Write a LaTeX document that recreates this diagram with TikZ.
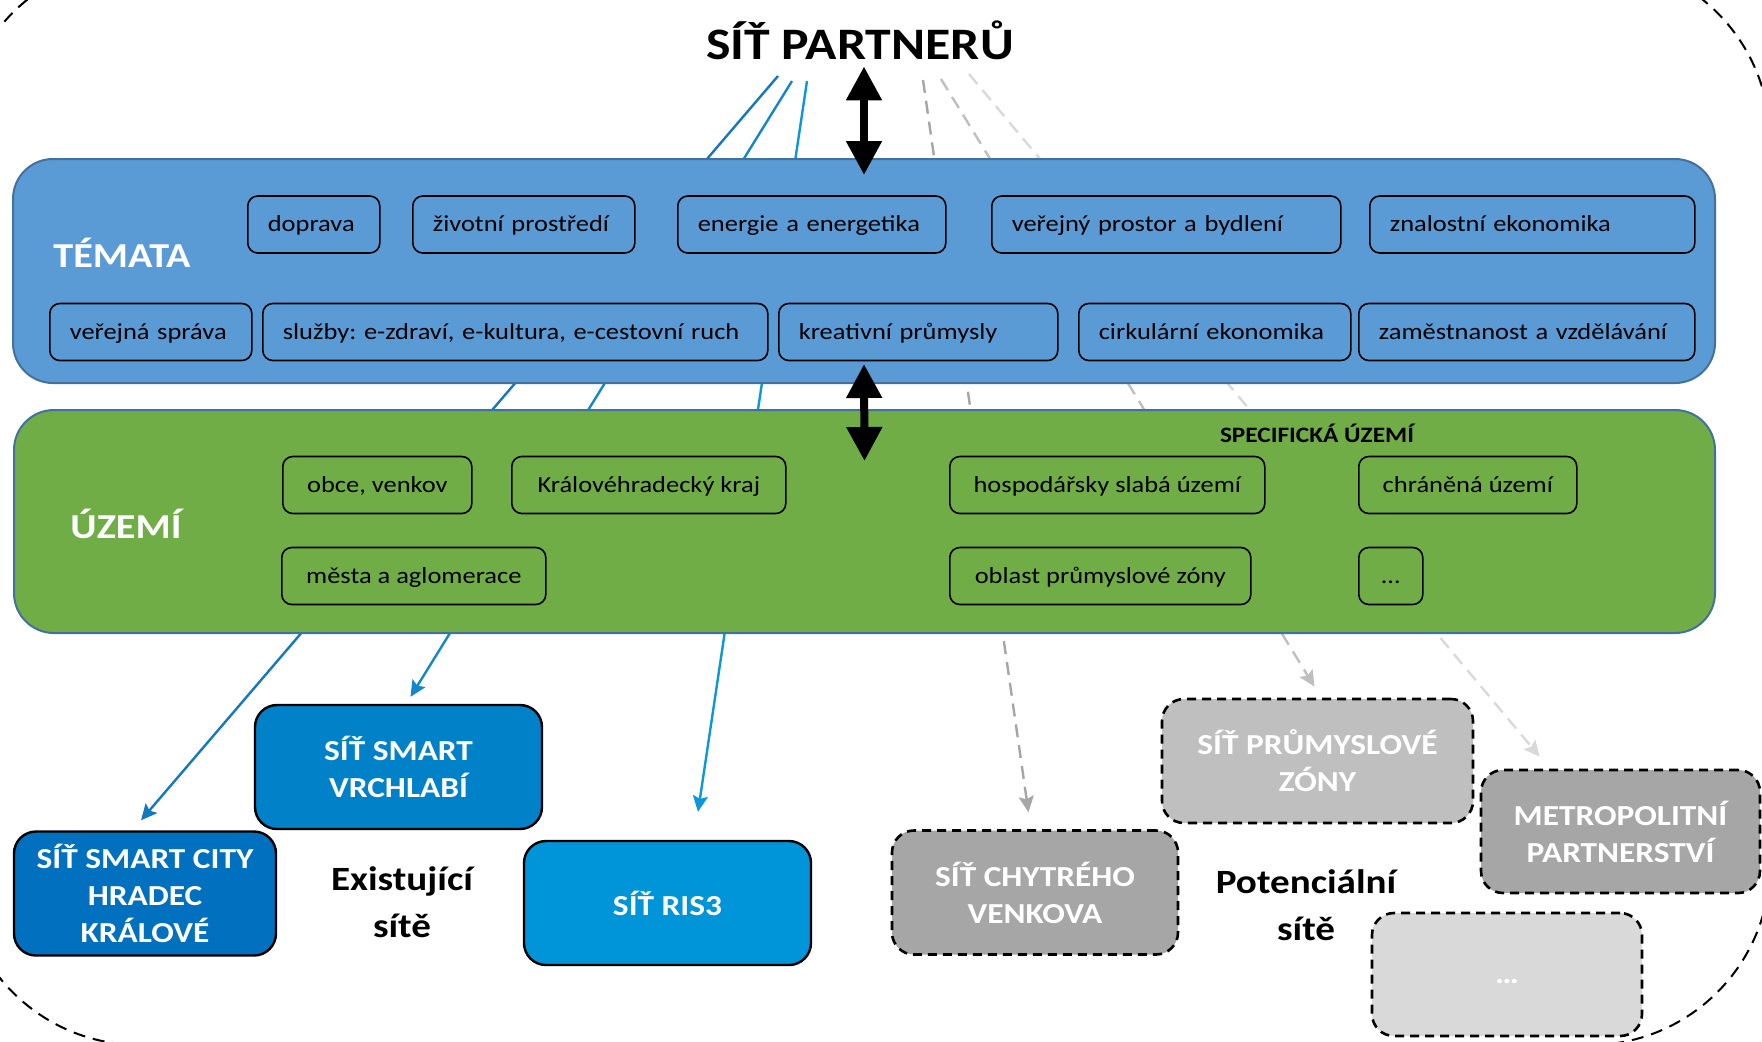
\documentclass[tikz,border=0pt]{standalone}
\usepackage{fontspec}
\setmainfont{Carlito}[FakeStretch=1.15]
\usetikzlibrary{arrows.meta}
\frenchspacing

\definecolor{temablue}{HTML}{5B9BD5}
\definecolor{panelline}{HTML}{41719C}
\definecolor{uzemigreen}{HTML}{70AD47}
\definecolor{hkblue}{HTML}{0070BF}
\definecolor{vrchblue}{HTML}{0081C8}
\definecolor{risblue}{HTML}{0094D8}
\definecolor{lineone}{HTML}{1478C0}
\definecolor{linetwo}{HTML}{1486CC}
\definecolor{linethree}{HTML}{0B97DA}
\definecolor{grayone}{HTML}{A6A6A6}
\definecolor{graytwo}{HTML}{BFBFBF}
\definecolor{graythree}{HTML}{D9D9D9}

\tikzset{
  panel/.style={draw=panelline, line width=1pt, rounded corners=20pt, inner sep=0pt},
  panellabel/.style={anchor=base, text=white, font=\bfseries\fontsize{17.5}{21}\selectfont},
  tema/.style={draw, line width=0.8pt, rounded corners=5pt, anchor=west, align=left,
    inner xsep=10pt, minimum height=28.5pt, text height=0.9em, text depth=0.2em,
    font=\fontsize{11.5}{13}\selectfont},
  uzemibox/.style={tema, align=center},
  sit/.style={draw, line width=1.2pt, rounded corners=11pt, text=white, align=center,
    minimum height=62pt, font=\bfseries\fontsize{14.5}{18.5}\selectfont},
  potsit/.style={sit, line width=1.3pt, dash pattern=on 4.5pt off 3pt},
  group/.style={align=center, font=\bfseries\fontsize{17}{23.5}\selectfont},
  existarrow/.style={-{Stealth[length=8pt,width=7.5pt,inset=1.5pt]}, line width=1.2pt},
  potarrow/.style={existarrow, dash pattern=on 6.5pt off 4pt},
  bigarrow/.style={{Triangle[length=17pt,width=17pt]}-{Triangle[length=17pt,width=17pt]}, line width=4pt},
}

\begin{document}
\begin{tikzpicture}[x=0.5pt, y=-0.5pt]
\useasboundingbox (0,0) rectangle (1762,1041);

% dashed frame round the whole network
\begin{scope}
  \clip (0,0) rectangle (1762,1041);
  \draw[line width=1pt, dash pattern=on 6pt off 4pt, rounded corners=90pt] (-40,-40) rectangle (1770,1045);
\end{scope}

\node[anchor=base, font=\bfseries\fontsize{22.5}{27}\selectfont] (title) at (860,59) {SÍŤ PARTNERŮ};

% existing networks
\node[sit, fill=hkblue, minimum width=131pt] (hk) at (145,893.5) {SÍŤ SMART CITY\\HRADEC\\KRÁLOVÉ};
\node[sit, fill=vrchblue, minimum width=143.5pt] (vrch) at (398.5,767) {SÍŤ SMART\\VRCHLABÍ};
\node[sit, fill=risblue, minimum width=143.5pt] (ris) at (667.5,903) {SÍŤ RIS3};
\node[group] (existujici) at (402,902) {Existující\\sítě};

% potential networks
\node[potsit, fill=grayone, minimum width=143pt] (chytry) at (1035,892.5) {SÍŤ CHYTRÉHO\\VENKOVA};
\node[potsit, fill=graytwo, minimum width=155.5pt] (prum) at (1317.5,761) {SÍŤ PRŮMYSLOVÉ\\ZÓNY};
\node[potsit, fill=grayone, minimum width=139.5pt, minimum height=61.5pt] (metro) at (1620.5,831.5) {METROPOLITNÍ\\PARTNERSTVÍ};
\node[potsit, fill=graythree, minimum width=135pt, minimum height=61.5pt, text height=8.5pt, text depth=0pt] (dalsi) at (1507,974.5) {…};
\node[group] (potencialni) at (1306,905) {Potenciální\\sítě};

\coordinate (s1) at (778,76);
\coordinate (s2) at (792,81);
\coordinate (s3) at (807,81);
\coordinate (s4) at (923,80);
\coordinate (s5) at (941,79);
\coordinate (s6) at (969,74);

\draw[existarrow, lineone] (s1) -- ([xshift=-2pt,yshift=5pt]hk.north);
\draw[existarrow, linetwo] (s2) -- ([xshift=6pt,yshift=3.5pt]vrch.north);
\draw[existarrow, linethree] (s3) -- ([xshift=15.25pt,yshift=14pt]ris.north);
\draw[potarrow, grayone] (s4) -- ([xshift=-3.25pt,yshift=8.5pt]chytry.north);
\draw[potarrow, graytwo] (s5) -- ([xshift=-1.5pt,yshift=5.5pt]prum.north);
\draw[potarrow, graythree] (s6) -- ([xshift=30pt,yshift=6pt]metro.north west);

% themes
\node[panel, fill=temablue, minimum width=851pt, minimum height=112pt] (temata) at (864,271) {};
\node[panellabel] (tematalabel) at (122,267) {TÉMATA};
\node[tema, minimum width=66pt, text width=46pt] (doprava) at (247,224.5) {doprava};
\node[tema, minimum width=111pt, text width=91pt] (zivotni) at (412,224.5) {životní prostředí};
\node[tema, minimum width=134pt, text width=114pt] (energie) at (677,224.5) {energie a energetika};
\node[tema, minimum width=174.5pt, text width=154.5pt] (prostor) at (991,224.5) {veřejný prostor a bydlení};
\node[tema, minimum width=162.5pt, text width=142.5pt] (znalostni) at (1369,224.5) {znalostní ekonomika};
\node[tema, minimum width=101pt, text width=81pt] (sprava) at (49,332) {veřejná správa};
\node[tema, minimum width=252.5pt, text width=232.5pt] (sluzby) at (262,332) {služby: e-zdraví, e-kultura, e-cestovní ruch};
\node[tema, minimum width=139.5pt, text width=119.5pt] (kreativni) at (778,332) {kreativní průmysly};
\node[tema, minimum width=136pt, text width=116pt] (cirkularni) at (1078,332) {cirkulární ekonomika};
\node[tema, minimum width=168pt, text width=148pt] (zamestnanost) at (1358,332) {zaměstnanost a vzdělávání};

% territories
\node[panel, fill=uzemigreen, minimum width=850.5pt, minimum height=111.5pt] (uzemi) at (864.5,521.5) {};
\node[panellabel] (uzemilabel) at (126,538) {ÚZEMÍ};
\node[anchor=base, font=\bfseries\fontsize{11}{13}\selectfont] (specificka) at (1317,442) {SPECIFICKÁ ÚZEMÍ};
\node[uzemibox, minimum width=94.5pt] (obce) at (282,485) {obce, venkov};
\node[uzemibox, minimum width=137pt] (kraj) at (511,485) {Královéhradecký kraj};
\node[uzemibox, minimum width=132pt] (mesta) at (281,576) {města a aglomerace};
\node[uzemibox, minimum width=157.5pt] (slaba) at (949,485) {hospodářsky slabá území};
\node[uzemibox, minimum width=109pt] (chranena) at (1358,485) {chráněná území};
\node[uzemibox, minimum width=150.5pt] (zona) at (949,576) {oblast průmyslové zóny};
\node[uzemibox, minimum width=32pt, inner xsep=2pt] (jine) at (1358,576) {…};

\draw[bigarrow] (temata.north |- title.south) -- ([yshift=-8.5pt]temata.north);
\draw[bigarrow] ([yshift=10pt]temata.south) -- ([yshift=-26pt]uzemi.north);
\end{tikzpicture}
\end{document}
